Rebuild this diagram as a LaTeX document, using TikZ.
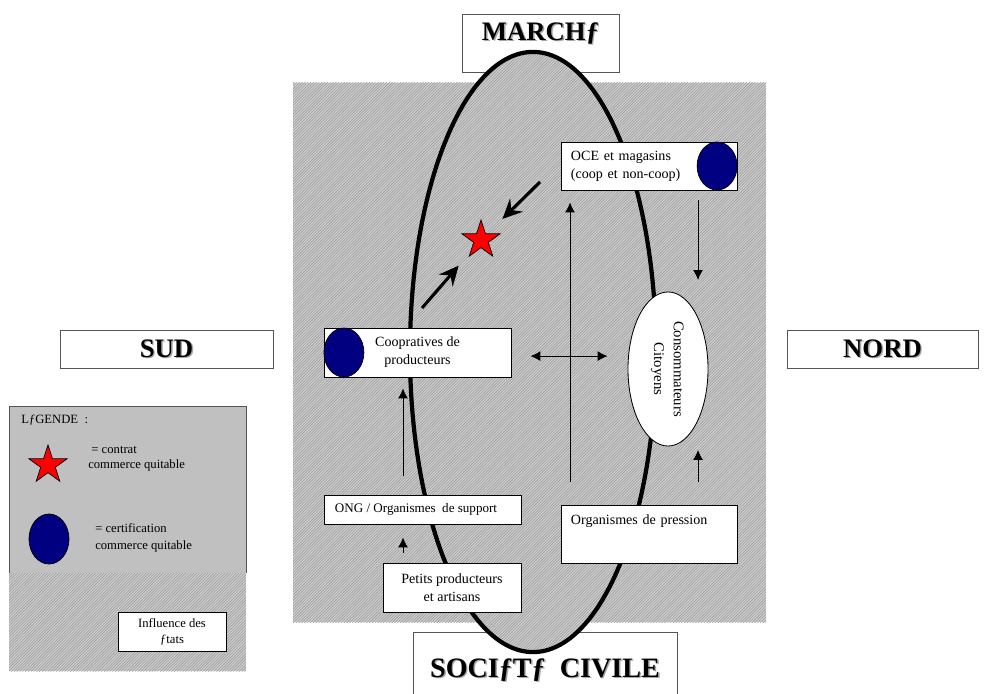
\documentclass[tikz,border=0pt]{standalone}
\usepackage{fontspec}
\setmainfont{Liberation Serif}
\usepackage{graphicx}
\usetikzlibrary{arrows.meta, positioning, shapes.geometric, patterns.meta}
\definecolor{sealblue}{RGB}{0, 0, 128}
\definecolor{starred}{RGB}{255, 0, 0}
\definecolor{panelgray}{RGB}{192, 192, 192}
\definecolor{hatchbg}{RGB}{208, 208, 208}
\definecolor{hatchink}{RGB}{158, 158, 158}
\definecolor{frame}{RGB}{85, 85, 85}

\tikzdeclarepattern{
  name=grayhatch,
  type=uncolored,
  bottom left={(-.1pt,-.1pt)},
  top right={(2.1pt,2.1pt)},
  tile size={(2pt,2pt)},
  code={\draw[line width=.45pt] (-.1pt,-.1pt) -- (2.1pt,2.1pt);}
}

\newcommand{\castshadow}[1]{\makebox[0pt][l]{\hspace{1pt}\raisebox{-1pt}{\color{gray!70}#1}}#1}

\begin{document}
\begin{tikzpicture}[
      x=0.025cm, y=-0.025cm,
      every node/.style={font=\fontsize{10}{12.8}\selectfont},
      hatch/.style={preaction={fill=hatchbg}, pattern=grayhatch, pattern color=hatchink},
      titlebox/.style={rectangle, draw=frame, fill=white, line width=0.6pt,
                       font=\fontsize{19}{22}\selectfont\bfseries, minimum height=0.95cm},
      box/.style={rectangle, draw=black, fill=white, line width=0.6pt, inner sep=0pt},
      note/.style={inner sep=0pt, anchor=west, align=left, font=\fontsize{9}{10.8}\selectfont},
      seal/.style={ellipse, draw=black, fill=sealblue, line width=0.5pt,
                   minimum width=1cm, inner sep=0pt},
      fairstar/.style={star, star points=5, star point ratio=2.6, draw=black, fill=starred,
                       line width=0.5pt, minimum size=1cm, inner sep=0pt},
      thinarrow/.style={-{Latex[length=7pt, width=7pt]}, line width=0.7pt},
      boldarrow/.style={-{Stealth[length=14pt, width=13pt, inset=5pt]}, line width=2.2pt}
    ]
    \useasboundingbox (0,0) rectangle (990,694);

    % hatched field
    \path[hatch] (293,83) rectangle (766,622);

    % legend panel
    \fill[panelgray] (9,406) rectangle (246,573);
    \path[hatch] (9,573) rectangle (246,671);
    \draw[frame, line width=0.6pt] (9,573) -- (9,406) -- (246,406) -- (246,573);
    \node[note] (legtitle) at (21,420) {LƒGENDE~ :};
    \node[fairstar] (legstar) at (48,465) {};
    \node[note] (legstartxt) at (88,458.5) {~= contrat\\commerce quitable};
    \node[seal, minimum height=1.25cm] (legseal) at (49,539) {};
    \node[note, font=\fontsize{9}{12}\selectfont] (legsealtxt) at (95,537.5)
          {= certification\\commerce quitable};
    \node[box, minimum width=2.7cm, minimum height=0.975cm, align=center,
          font=\fontsize{9}{11.5}\selectfont] (etats) at (172,632) {Influence des\\ƒtats};

    % titles behind the loop
    \node[titlebox, minimum width=3.925cm, minimum height=1.45cm,
          text height=0.42cm, text depth=0.55cm] (march) at (540.5,43) {\castshadow{MARCHƒ}};
    \node[titlebox, minimum width=6.6cm, minimum height=1.8cm,
          font=\fontsize{20}{24}\selectfont\bfseries, text height=0.47cm, text depth=0pt]
          (societe) at (545,668) {\castshadow{SOCIƒTƒ~ CIVILE}};

    % market / society loop
    \node[ellipse, hatch, draw=black, line width=3pt, minimum width=6.15cm,
          minimum height=15cm, inner sep=0pt] (loop) at (533,352) {};

    \node[titlebox, minimum width=5.325cm] (sud) at (166.5,349) {\castshadow{SUD}};
    \node[titlebox, minimum width=4.775cm] (nord) at (882.5,349) {\castshadow{NORD}};

    % actors
    \node[box, minimum width=4.4cm, minimum height=1.2cm, text width=3.9cm,
          inner xsep=0.25cm, align=left] (oce) at (649,166) {OCE et magasins\\(coop et non-coop)};
    \node[seal, minimum height=1.2cm, anchor=east] (oceseal) at (oce.east) {};
    \node[box, minimum width=4.675cm, minimum height=1.225cm, align=center]
          (coop) at (417.5,352.5) {Coopratives de\\producteurs};
    \node[seal, minimum height=1.225cm, anchor=west] (coopseal) at (coop.west) {};
    \node[box, minimum width=4.925cm, minimum height=0.725cm, inner xsep=0.275cm,
          font=\fontsize{9.3}{11}\selectfont]
          (ong) at (422.5,509.5) {\makebox[4.375cm][l]{ONG / Organismes~ de support}};
    \node[box, minimum width=3.45cm, minimum height=1.225cm, align=center]
          (petits) at (452,587.5) {Petits producteurs\\et artisans};
    \node[box, minimum width=4.4cm, minimum height=1.45cm, text width=3.9cm,
          inner xsep=0.25cm, align=left, text height=0.25cm, text depth=0.75cm]
          (pression) at (649,534) {Organismes de pression};
    \node[ellipse, draw=black, fill=white, line width=0.6pt, minimum width=2cm,
          minimum height=3.85cm, inner sep=0pt, font=\fontsize{10.5}{14}\selectfont]
          (citoyens) at (668,369)
          {\rotatebox{-90}{\begin{tabular}{@{}c@{}}Consommateurs\\Citoyens\end{tabular}}};
    \node[fairstar] (contract) at (481,240) {};

    % free ends
    \coordinate (ocedown) at (698,280);
    \coordinate (pressionup) at (698,450);
    \coordinate (spine) at (570,0);
    \coordinate (leftspine) at (403,0);
    \coordinate (ocetail) at (540,182);
    \coordinate (cooptail) at (422,308);

    \draw[thinarrow, shorten <=0.25cm] (oce.south -| ocedown) -- (ocedown);
    \draw[thinarrow, shorten <=0.575cm] (pression.north -| pressionup) -- (pressionup);
    \draw[thinarrow, shorten <=0.575cm, shorten >=0.3cm] (pression.north -| spine) -- (oce.south -| spine);
    \draw[thinarrow, {Latex[length=7pt, width=7pt]}-{Latex[length=7pt, width=7pt]},
          shorten <=0.475cm, shorten >=0.5cm] ([yshift=-0.09cm]coop.east) -- ([yshift=-0.09cm]coop.east -| citoyens.west);
    \draw[thinarrow, shorten <=0.475cm, shorten >=0.275cm] (ong.north -| leftspine) -- (coop.south -| leftspine);
    \draw[thinarrow, shorten <=0.25cm, shorten >=0.325cm] (petits.north -| leftspine) -- (ong.south -| leftspine);
    \draw[boldarrow, shorten >=0.75cm] (ocetail) -- (contract.center);
    \draw[boldarrow, shorten >=0.85cm] (cooptail) -- (contract.center);
  \end{tikzpicture}
\end{document}
